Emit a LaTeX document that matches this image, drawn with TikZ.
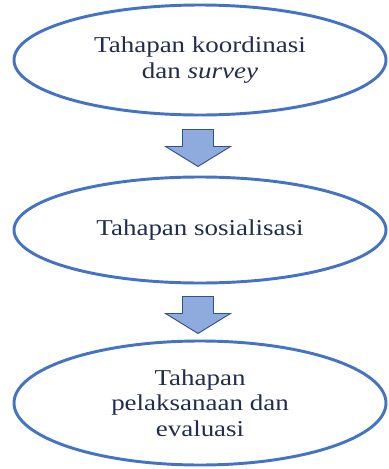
\documentclass[tikz,border=0pt]{standalone}
\usepackage{fontspec}
\setmainfont{Liberation Serif}
\newfontfamily\stagefont[FakeStretch=1.19]{Liberation Serif}
\usetikzlibrary{shapes.geometric}

\definecolor{ringblue}{RGB}{68,114,196}
\definecolor{arrowfill}{RGB}{143,170,220}
\definecolor{arrowline}{RGB}{47,82,143}
\definecolor{textnavy}{RGB}{33,45,78}

\tikzset{
  stage/.style={ellipse, draw=ringblue, line width=2.2pt, inner sep=0pt,
    minimum width=279pt, minimum height=79.5pt, align=center, text=textnavy,
    font=\stagefont\fontsize{17}{19.2}\selectfont},
  blockarrow/.style={fill=arrowfill, draw=arrowline, line width=0.7pt, line join=miter}
}

\begin{document}
\begin{tikzpicture}[x=0.75pt, y=-0.75pt]
  \useasboundingbox (0,0) rectangle (389,469);
  \node [stage, minimum height=82.5pt] (koord) at (200,60) {Tahapan koordinasi\\dan \textit{survey}};
  \node [stage] (sosial) at (200,230) {Tahapan sosialisasi};
  \node [stage, minimum height=93pt] (laksana) at (200,403) {Tahapan\\pelaksanaan dan\\evaluasi};
  % block arrows between the stages
  \path (koord.south) ++(-2,13) coordinate (a1);
  \path (sosial.south) ++(-2,12) coordinate (a2);
  \draw [blockarrow] (a1) ++(-15.5,0) -- ++(31,0) -- ++(0,17) -- ++(17,0)
    -- ++(-32.5,20) -- ++(-32.5,-20) -- ++(17,0) -- cycle;
  \draw [blockarrow] (a2) ++(-15.5,0) -- ++(31,0) -- ++(0,17) -- ++(17,0)
    -- ++(-32.5,20) -- ++(-32.5,-20) -- ++(17,0) -- cycle;
\end{tikzpicture}
\end{document}
